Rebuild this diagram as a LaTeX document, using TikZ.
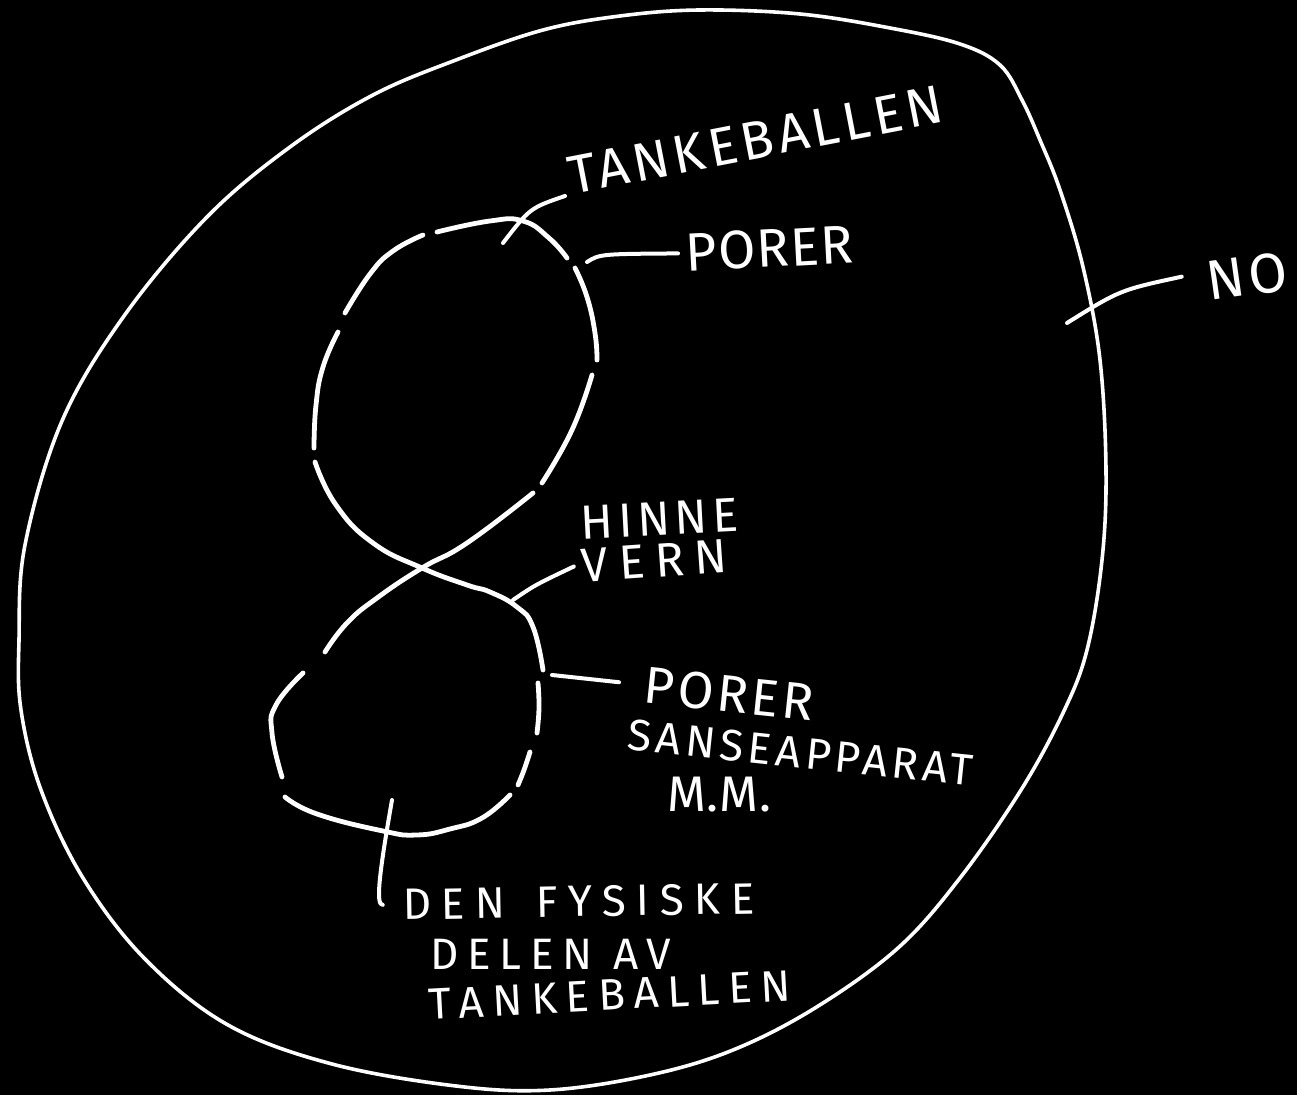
\documentclass[tikz,border=0pt]{standalone}
\usepackage{fontspec}
\setmainfont{Fira Sans}
\newcommand\handfont[2]{\fontsize{#1}{#1}\selectfont\addfontfeature{LetterSpace=#2}}
\tikzset{
  blob/.style={draw=white, line width=1.8pt, line cap=round, line join=round},
  pore/.style={draw=white, line width=2.4pt, line cap=round, line join=round},
  leader/.style={draw=white, line width=2pt, line cap=round},
  lbl/.style={text=white, inner sep=0pt, outer sep=4pt, anchor=base west}}

\begin{document}
\begin{tikzpicture}[x=0.5pt, y=-0.5pt]
\useasboundingbox (0,0) rectangle (1297,1095);
\fill[black] (0,0) rectangle (1297,1095);
\draw[blob] plot[smooth cycle, tension=0.6] coordinates {(700,10) (800,14) (890,28) (960,44) (1000,65) (1022,100) (1040,140) (1060,190) (1083,267) (1100,360) (1106,470) (1102,560) (1087,650) (1063,713) (1021,790) (960,878) (898,948) (815,1008) (733,1050) (650,1075) (550,1090) (456,1086) (332,1064) (228,1025) (145,959) (83,878) (41,790) (21,710) (19,640) (25,545) (62,421) (124,316) (207,217) (290,147) (373,95) (456,60) (543,30) (620,16)};
\draw[pore] plot[smooth, tension=0.8] coordinates {(315,462) (336,505) (373,543) (422,568) (467,585) (490,592) (517,607) (533,627) (543,670)};
\draw[pore] plot[smooth, tension=0.8] coordinates {(538,683) (539,708) (537,733)};
\draw[pore] plot[smooth, tension=0.8] coordinates {(530,752) (524,770) (518,785)};
\draw[pore] plot[smooth, tension=0.8] coordinates {(510,795) (482,818) (450,829) (417,835) (383,831) (317,814) (285,797)};
\draw[pore] plot[smooth, tension=0.8] coordinates {(282,777) (272,733) (276,705) (303,673)};
\draw[pore] plot[smooth, tension=0.8] coordinates {(325,652) (347,623) (377,598) (422,568) (467,543) (533,493)};
\draw[pore] plot[smooth, tension=0.8] coordinates {(542,483) (572,430) (592,375)};
\draw[pore] plot[smooth, tension=0.8] coordinates {(575,268) (587,297) (595,333) (597,360)};
\draw[pore] plot[smooth, tension=0.8] coordinates {(567,258) (549,238) (523,221) (490,221) (437,232)};
\draw[pore] plot[smooth, tension=0.8] coordinates {(423,235) (393,251) (370,274) (345,313)};
\draw[pore] plot[smooth, tension=0.8] coordinates {(338,332) (323,367) (316,405) (314,448)};
\coordinate (tk) at (503,243);
\coordinate (pt) at (587,262);
\coordinate (nc) at (1067,323);
\coordinate (hv) at (513,600);
\coordinate (pl) at (552,675);
\coordinate (dn) at (392,800);
\node[lbl, rotate=11, font=\handfont{27}{8}] (tankeTop) at (565,196) {TANKEBALLEN};
\node[lbl, rotate=3, font=\handfont{27}{2}] (porerTop) at (679,272) {PORER};
\node[lbl, rotate=8, font=\handfont{28}{6}] (no) at (1202,302) {NO};
\node[lbl, rotate=3, font=\handfont{24}{10}] (hinne) at (574,540) {HINNE};
\node[lbl, rotate=4, font=\handfont{24}{22}] (vern) at (575,583) {VERN};
\node[lbl, rotate=-6, font=\handfont{26}{6}] (porerLow) at (635,702) {PORER};
\node[lbl, rotate=-6, font=\handfont{22}{10}] (sanse) at (619,749) {SANSEAPPARAT};
\node[lbl, font=\handfont{25}{2}] (mm) at (659,812) {M.M.};
\node[lbl, rotate=1, font=\handfont{22}{24}] (den) at (395,920) {DEN \hspace{4pt}FYSISKE};
\node[lbl, font=\handfont{22}{20}] (delen) at (422,970) {DELEN AV};
\node[lbl, rotate=3, font=\handfont{22}{20}] (tankeLow) at (422,1020) {TANKEBALLEN};
\draw[leader] (tk) .. controls (530,208) .. (tankeTop.base west);
\draw[leader] (pt) .. controls (600,254) .. (porerTop.west);
\draw[leader, shorten >=9pt] (nc) .. controls (1120,290) .. ([yshift=5pt]no.west);
\draw[leader] (hv) .. controls (535,585) .. (vern.west);
\draw[leader, shorten >=9pt] (pl) -- (porerLow.west);
\draw[leader] (dn) .. controls (378,880) and (376,905) .. ([xshift=-6pt]den.west);
\end{tikzpicture}
\end{document}
